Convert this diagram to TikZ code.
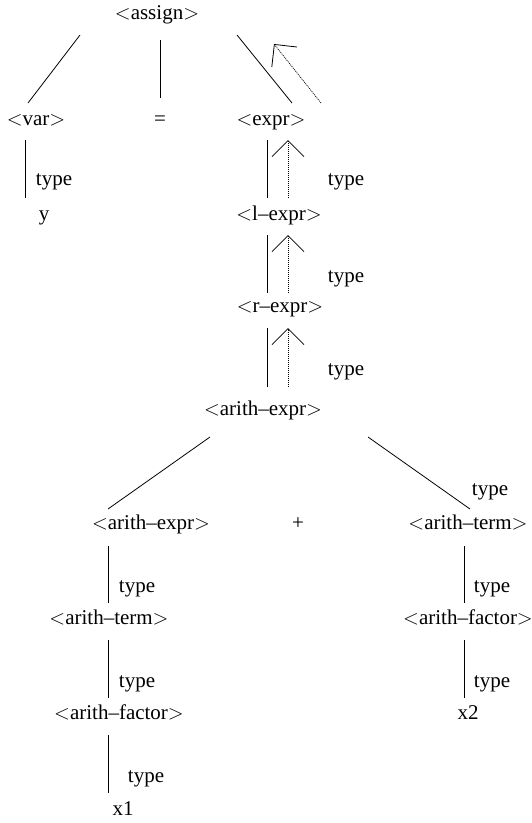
\documentclass[tikz,border=0pt]{standalone}
\usepackage{fontspec}
\setmainfont{Liberation Serif}
\usetikzlibrary{arrows.meta}
\newcommand{\lt}{$<$}
\newcommand{\gt}{$>$}
\tikzset{
  lbl/.style={inner sep=0pt, font=\fontsize{21}{25}\selectfont, text height=0.68em, text depth=0.2em},
  edge/.style={line width=0.8pt, black},
  synth/.style={line width=0.7pt, dash pattern=on 1pt off 1pt, -{Straight Barb[length=16pt, width=32pt, line width=0.8pt]}}
}
\begin{document}
\begin{tikzpicture}[x=1pt, y=-1pt]
\useasboundingbox (0,0) rectangle (532,823);
% nodes
\node[lbl] (assign) at (157,17) {\lt assign\gt};
\node[lbl] (var) at (36,123) {\lt var\gt};
\node[lbl] (eq) at (160,123) {=};
\node[lbl] (expr) at (271,123) {\lt expr\gt};
\node[lbl] (tvar) at (54,183) {type};
\node[lbl] (y) at (44,218) {y};
\node[lbl] (texpr) at (346,183) {type};
\node[lbl] (lexpr) at (279,218) {\lt l–expr\gt};
\node[lbl] (tl) at (346,280) {type};
\node[lbl] (rexpr) at (280,310) {\lt r–expr\gt};
\node[lbl] (tr) at (346,373) {type};
\node[lbl] (ae) at (263,413) {\lt arith–expr\gt};
\node[lbl] (ae2) at (151,527) {\lt arith–expr\gt};
\node[lbl] (plus) at (298,527) {+};
\node[lbl] (at2) at (468,527) {\lt arith–term\gt};
\node[lbl] (tat2) at (490,493) {type};
\node[lbl] (tl1) at (137,590) {type};
\node[lbl] (tr1) at (492,590) {type};
\node[lbl] (at1) at (109,622) {\lt arith–term\gt};
\node[lbl] (af2) at (468,622) {\lt arith–factor\gt};
\node[lbl] (tl2) at (137,685) {type};
\node[lbl] (tr2) at (492,685) {type};
\node[lbl] (af1) at (119,717) {\lt arith–factor\gt};
\node[lbl] (x2) at (468,717) {x2};
\node[lbl] (tl3) at (146,780) {type};
\node[lbl] (x1) at (123,813) {x1};
% connector end points
\coordinate (c1a) at (80,35);   \coordinate (c1b) at (28,103);
\coordinate (c2a) at (160,40);  \coordinate (c2b) at (160,98);
\coordinate (c3a) at (237,35);  \coordinate (c3b) at (292,103);
\coordinate (d1a) at (321,103); \coordinate (d1b) at (274,44);
\coordinate (v1a) at (25,140);  \coordinate (v1b) at (25,198);
\coordinate (s1a) at (267,140); \coordinate (s1b) at (267,198);
\coordinate (d2a) at (288,198); \coordinate (d2b) at (288,140);
\coordinate (s2a) at (267,235); \coordinate (s2b) at (267,293);
\coordinate (d3a) at (288,293); \coordinate (d3b) at (288,235);
\coordinate (s3a) at (267,328); \coordinate (s3b) at (267,387);
\coordinate (d4a) at (288,387); \coordinate (d4b) at (288,328);
\coordinate (e1a) at (210,437); \coordinate (e1b) at (108,509);
\coordinate (e2a) at (368,437); \coordinate (e2b) at (470,509);
\coordinate (l1a) at (108,546); \coordinate (l1b) at (108,603);
\coordinate (r1a) at (464,546); \coordinate (r1b) at (464,603);
\coordinate (l2a) at (108,640); \coordinate (l2b) at (108,698);
\coordinate (r2a) at (464,640); \coordinate (r2b) at (464,698);
\coordinate (l3a) at (108,735); \coordinate (l3b) at (108,793);
% tree edges
\draw[edge] (c1a) -- (c1b);
\draw[edge] (c2a) -- (c2b);
\draw[edge] (c3a) -- (c3b);
\draw[edge] (v1a) -- (v1b);
\draw[edge] (s1a) -- (s1b);
\draw[edge] (s2a) -- (s2b);
\draw[edge] (s3a) -- (s3b);
\draw[edge] (e1a) -- (e1b);
\draw[edge] (e2a) -- (e2b);
\draw[edge] (l1a) -- (l1b);
\draw[edge] (r1a) -- (r1b);
\draw[edge] (l2a) -- (l2b);
\draw[edge] (r2a) -- (r2b);
\draw[edge] (l3a) -- (l3b);
% synthesized attribute arrows
\draw[synth] (d1a) -- (d1b);
\draw[synth] (d2a) -- (d2b);
\draw[synth] (d3a) -- (d3b);
\draw[synth] (d4a) -- (d4b);
\end{tikzpicture}
\end{document}
